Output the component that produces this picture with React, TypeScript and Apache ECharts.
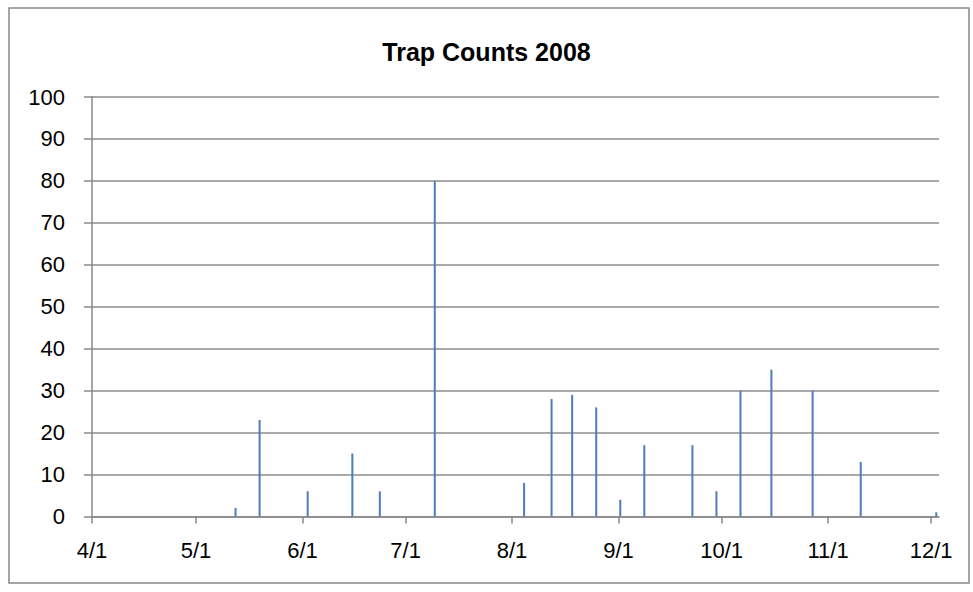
import React, { useEffect, useRef } from "react";
import * as echarts from "echarts";

const TITLE = "Trap Counts 2008";
const dates = [
  "2008-05-12", "2008-05-19", "2008-06-02", "2008-06-15", "2008-06-23",
  "2008-07-09", "2008-08-04", "2008-08-12", "2008-08-18", "2008-08-25",
  "2008-09-01", "2008-09-08", "2008-09-22", "2008-09-29", "2008-10-06",
  "2008-10-15", "2008-10-27", "2008-11-10", "2008-12-02",
];
const counts = [2, 23, 6, 15, 6, 80, 8, 28, 29, 26, 4, 17, 17, 6, 30, 35, 30, 13, 1];
const axisStart = "2008-04-01";
const axisEnd = "2008-12-03";

const FONT = "'Liberation Sans', Arial, sans-serif";

function toTime(s: string, hour = 0) {
  const [y, m, d] = s.split("-").map(Number);
  return new Date(y, m - 1, d, hour).getTime();
}

export default function App() {
  const ref = useRef<HTMLDivElement>(null);
  useEffect(() => {
    if (!ref.current) return;
    const chart = echarts.init(ref.current, undefined, { renderer: "svg" });
    const DAY = 24 * 3600 * 1000;
    chart.setOption({
      animation: false,
      backgroundColor: "#fff",
      title: {
        text: TITLE,
        left: "center",
        top: 34,
        textStyle: { fontFamily: FONT, fontSize: 25, fontWeight: "bold", color: "#000" },
      },
      graphic: [
        {
          type: "rect",
          shape: { x: 9, y: 8, width: 960, height: 575 },
          style: { fill: "none", stroke: "#888", lineWidth: 1.5 },
          silent: true,
        },
      ],
      grid: { left: 92, right: 34, top: 97, bottom: 75.5, containLabel: false },
      xAxis: {
        type: "time",
        min: toTime(axisStart),
        max: toTime(axisEnd),
        splitNumber: 8,
        minInterval: 28 * DAY,
        maxInterval: 31 * DAY,
        axisLine: { show: true, lineStyle: { color: "#888", width: 1.5 } },
        axisTick: { show: true, length: 7, lineStyle: { color: "#888", width: 1.5 } },
        splitLine: { show: false },
        axisLabel: {
          margin: 23,
          fontFamily: FONT,
          fontSize: 22,
          color: "#000",
          showMinLabel: true,
          formatter: (v: number) => {
            const d = new Date(v + DAY / 2);
            return `${d.getMonth() + 1}/${d.getDate()}`;
          },
        },
      },
      yAxis: {
        type: "value",
        min: 0,
        max: 100,
        interval: 10,
        axisLine: { show: true, lineStyle: { color: "#888", width: 1.5 } },
        axisTick: { show: true, length: 8, lineStyle: { color: "#888", width: 1.5 } },
        splitLine: { show: true, lineStyle: { color: "#8c8c8c", width: 1.5 } },
        axisLabel: { margin: 27, fontFamily: FONT, fontSize: 22, color: "#000" },
      },
      series: [
        {
          type: "bar",
          barWidth: 2,
          itemStyle: { color: "#4a7ebb" },
          data: dates.map((d, i) => [toTime(d, 12), counts[i]]),
        },
      ],
    });
    return () => chart.dispose();
  }, []);
  return (
    <div
      ref={ref}
      style={{ position: "absolute", left: 0, top: 0, width: 973, height: 592 }}
    />
  );
}
